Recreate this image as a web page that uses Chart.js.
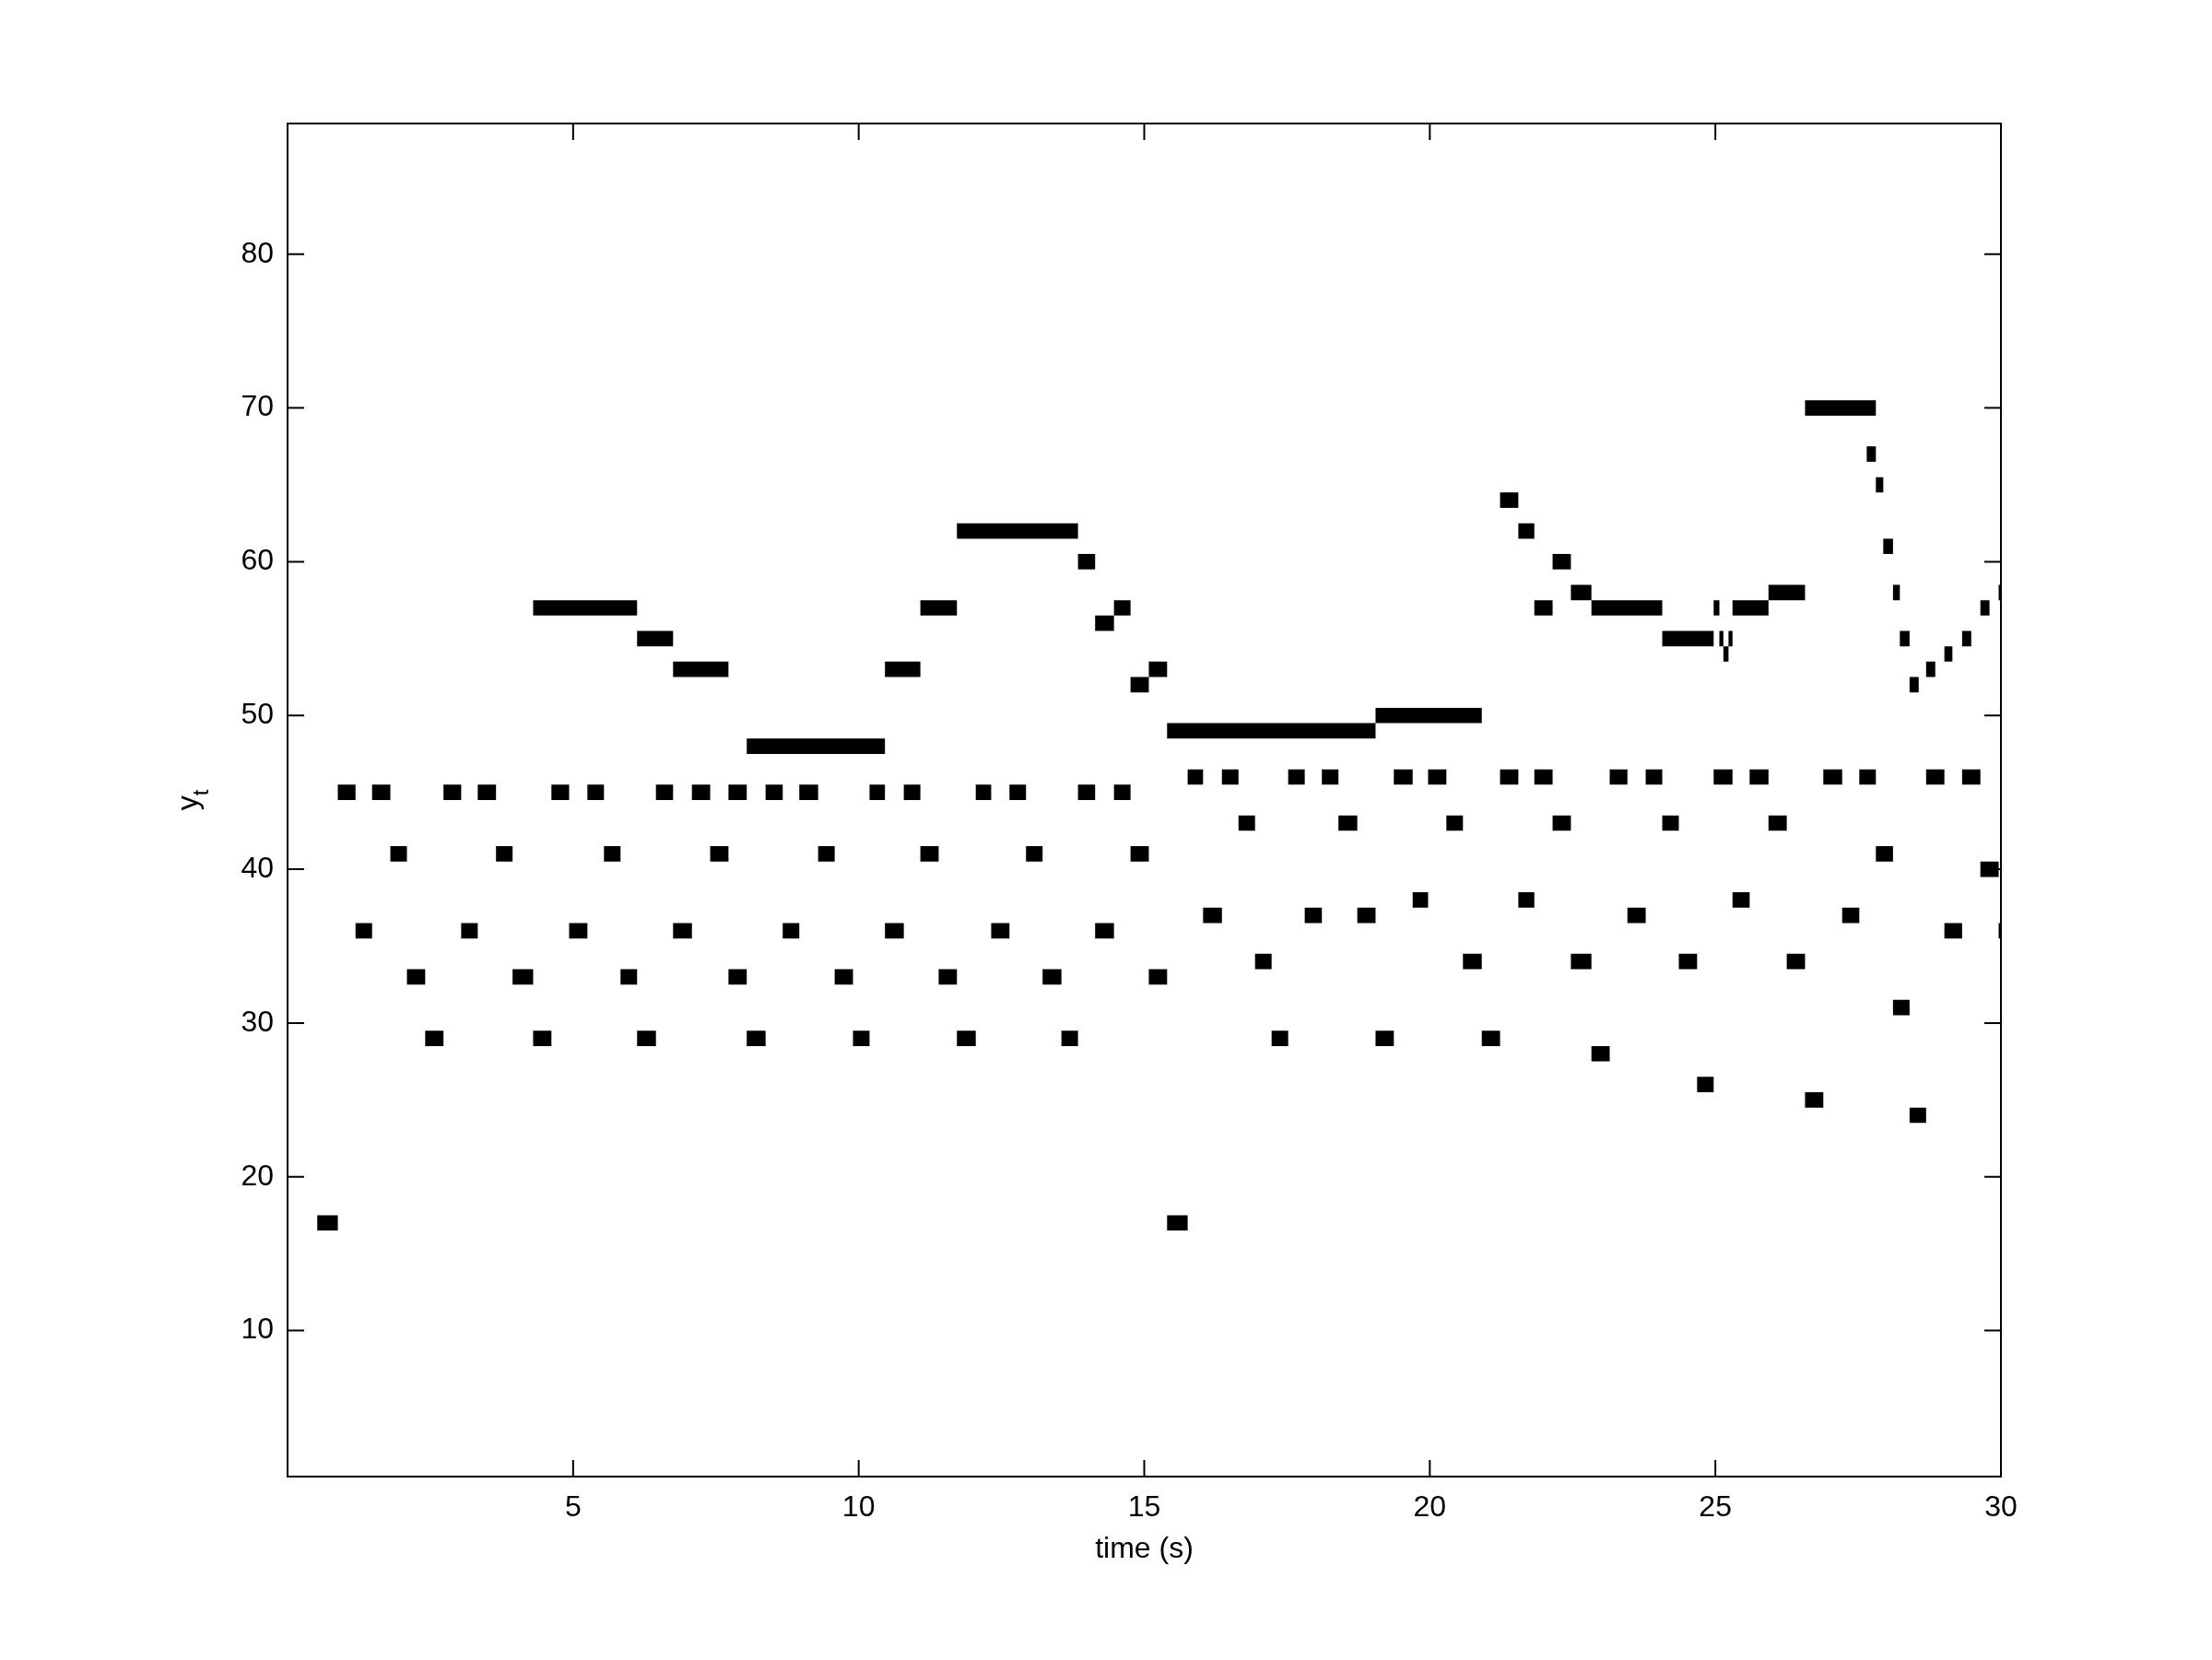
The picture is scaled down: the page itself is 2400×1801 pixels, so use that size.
<!DOCTYPE html>
<html>
<head>
<meta charset="utf-8">
<script src="https://cdn.jsdelivr.net/npm/chart.js@4.4.1/dist/chart.umd.min.js"></script>
<style>
  html, body { margin: 0; padding: 0; background: #fff; }
  #wrap { width: 2400px; height: 1801px; }
</style>
</head>
<body>
<div id="wrap"><canvas id="roll"></canvas></div>
<script>
// piano roll: one row per pitch, notes as [onset, offset] in seconds
const rowPitch = [17, 24, 25, 26, 28, 29, 31, 33, 34, 36, 37, 38, 40, 41, 43, 45, 46,
  48, 49, 50, 52, 53, 54, 55, 56, 57, 58, 60, 61, 62, 64, 65, 67, 70];

const rowOnsets = [
  [0.52, 15.40],
  [28.40],
  [26.57],
  [24.68],
  [22.83],
  [2.41, 4.30, 6.12, 8.04, 9.90, 11.72, 13.55, 17.23, 19.05, 20.91],
  [28.11],
  [2.09, 3.94, 5.83, 7.72, 9.58, 11.40, 13.22, 15.08],
  [16.94, 20.58, 22.47, 24.36, 26.25],
  [1.19, 3.04, 4.93, 6.75, 8.67, 10.46, 12.32, 14.14, 29.01, 29.96],
  [16.03, 17.81, 18.73, 23.46, 27.22],
  [19.70, 21.55, 25.30],
  [29.64],
  [1.80, 3.65, 5.54, 7.40, 9.29, 11.08, 12.93, 14.76, 27.81],
  [16.65, 18.40, 20.29, 22.15, 24.07, 25.93],
  [0.88, 1.48, 2.73, 3.33, 4.62, 5.25, 6.45, 7.08, 7.72, 8.37, 8.96, 10.19, 10.79, 12.05, 12.64, 13.84, 14.47],
  [15.76, 16.36, 17.52, 18.11, 19.37, 19.97, 21.23, 21.83, 23.15, 23.78, 24.97, 25.60, 26.89, 27.52, 28.69, 29.32],
  [8.04],
  [15.40],
  [19.05],
  [14.76, 28.40],
  [6.75, 10.46, 15.08, 28.69],
  [25.14, 29.01],
  [6.12, 24.07, 25.07, 25.23, 28.23, 29.32],
  [14.14],
  [4.30, 11.08, 14.47, 21.83, 22.83, 24.97, 25.30, 29.64],
  [22.47, 25.93, 28.11, 29.96],
  [13.84, 22.15],
  [27.94],
  [11.72, 21.55],
  [21.23],
  [27.81],
  [27.65],
  [26.57],
];

const rowOffsets = [
  [0.88, 15.76],
  [28.69],
  [26.89],
  [24.97],
  [23.15],
  [2.73, 4.62, 6.45, 8.37, 10.19, 12.05, 13.84, 17.52, 19.37, 21.23],
  [28.40],
  [2.41, 4.30, 6.12, 8.04, 9.90, 11.72, 13.55, 15.40],
  [17.23, 20.91, 22.83, 24.68, 26.57],
  [1.48, 3.33, 5.25, 7.08, 8.96, 10.79, 12.64, 14.47, 29.32, 30.00],
  [16.36, 18.11, 19.05, 23.78, 27.52],
  [19.97, 21.83, 25.60],
  [29.96],
  [2.09, 3.94, 5.83, 7.72, 9.58, 11.40, 13.22, 15.08, 28.11],
  [16.94, 18.73, 20.58, 22.47, 24.36, 26.25],
  [1.19, 1.80, 3.04, 3.65, 4.93, 5.54, 6.75, 7.40, 8.04, 8.67, 9.29, 10.46, 11.08, 12.32, 12.93, 14.14, 14.76],
  [16.03, 16.65, 17.81, 18.40, 19.70, 20.29, 21.55, 22.15, 23.46, 24.07, 25.30, 25.93, 27.22, 27.81, 29.01, 29.64],
  [10.46],
  [19.05],
  [20.91],
  [15.08, 28.56],
  [7.72, 11.08, 15.40, 28.85],
  [25.23, 29.15],
  [6.75, 24.97, 25.14, 25.30, 28.40, 29.48],
  [14.47],
  [6.12, 11.72, 14.76, 22.15, 24.07, 25.07, 25.93, 29.80],
  [22.83, 26.57, 28.23, 30.00],
  [14.14, 22.47],
  [28.11],
  [13.84, 21.83],
  [21.55],
  [27.94],
  [27.81],
  [27.81],
];

const xTicks = [5, 10, 15, 20, 25, 30];
const yTicks = [10, 20, 30, 40, 50, 60, 70, 80];

const FONT = "'Liberation Sans', Arial, Helvetica, sans-serif";

// each note becomes a thick horizontal segment, null point breaks the line
const cells = [];
rowPitch.forEach((p, i) => {
  rowOnsets[i].forEach((t0, j) => {
    const t1 = rowOffsets[i][j];
    cells.push({ x: t0, y: p }, { x: t1, y: p }, { x: t1, y: null });
  });
});

const frame = {
  id: "frame",
  afterDraw(chart) {
    const { ctx, chartArea: a, scales: { x, y } } = chart;
    ctx.save();
    ctx.strokeStyle = "#000";
    ctx.lineWidth = 2;
    ctx.strokeRect(a.left, a.top, a.right - a.left, a.bottom - a.top);

    const len = 18;
    ctx.beginPath();
    xTicks.forEach((v) => {
      const px = x.getPixelForValue(v);
      ctx.moveTo(px, a.bottom); ctx.lineTo(px, a.bottom - len);
      ctx.moveTo(px, a.top); ctx.lineTo(px, a.top + len);
    });
    yTicks.forEach((v) => {
      const py = y.getPixelForValue(v);
      ctx.moveTo(a.left, py); ctx.lineTo(a.left + len, py);
      ctx.moveTo(a.right, py); ctx.lineTo(a.right - len, py);
    });
    ctx.stroke();

    ctx.fillStyle = "#000";
    ctx.font = `32px ${FONT}`;
    ctx.textAlign = "center";
    ctx.textBaseline = "middle";
    ctx.fillText("time (s)", (a.left + a.right) / 2, a.bottom + 79);

    // y label with subscript t
    ctx.translate(a.left - 98, (a.top + a.bottom) / 2);
    ctx.rotate(-Math.PI / 2);
    ctx.textAlign = "left";
    ctx.textBaseline = "alphabetic";
    ctx.font = `32px ${FONT}`;
    const wy = ctx.measureText("y").width;
    ctx.font = `24px ${FONT}`;
    const wt = ctx.measureText("t").width;
    const x0 = -(wy + wt) / 2;
    ctx.font = `32px ${FONT}`;
    ctx.fillText("y", x0, 0);
    ctx.font = `24px ${FONT}`;
    ctx.fillText("t", x0 + wy, 12);
    ctx.restore();
  },
};

new Chart(document.getElementById("roll"), {
  type: "line",
  data: {
    datasets: [
      {
        data: cells,
        borderColor: "#000",
        borderWidth: (c) => {
          const s = c.chart.scales.y;
          return Math.abs(s.getPixelForValue(0) - s.getPixelForValue(1));
        },
        borderCapStyle: "butt",
        pointRadius: 0,
        spanGaps: false,
        fill: false,
        tension: 0,
      },
    ],
  },
  options: {
    responsive: true,
    maintainAspectRatio: false,
    animation: false,
    events: [],
    layout: { padding: { top: 134, right: 229, left: 0, bottom: 0 } },
    plugins: { legend: { display: false }, tooltip: { enabled: false } },
    scales: {
      x: {
        type: "linear",
        min: 0,
        max: 30,
        grid: { display: false, drawTicks: false },
        border: { display: false },
        afterBuildTicks: (s) => { s.ticks = xTicks.map((v) => ({ value: v })); },
        afterFit: (s) => { s.height = 199; },
        ticks: { color: "#000", font: { size: 32, family: FONT }, padding: 15, maxRotation: 0, autoSkip: false },
      },
      y: {
        type: "linear",
        min: 0.5,
        max: 88.5,
        grid: { display: false, drawTicks: false },
        border: { display: false },
        afterBuildTicks: (s) => { s.ticks = yTicks.map((v) => ({ value: v })); },
        afterFit: (s) => { s.width = 312; },
        ticks: { color: "#000", font: { size: 32, family: FONT }, padding: 15, autoSkip: false },
      },
    },
  },
  plugins: [frame],
});
</script>
</body>
</html>
